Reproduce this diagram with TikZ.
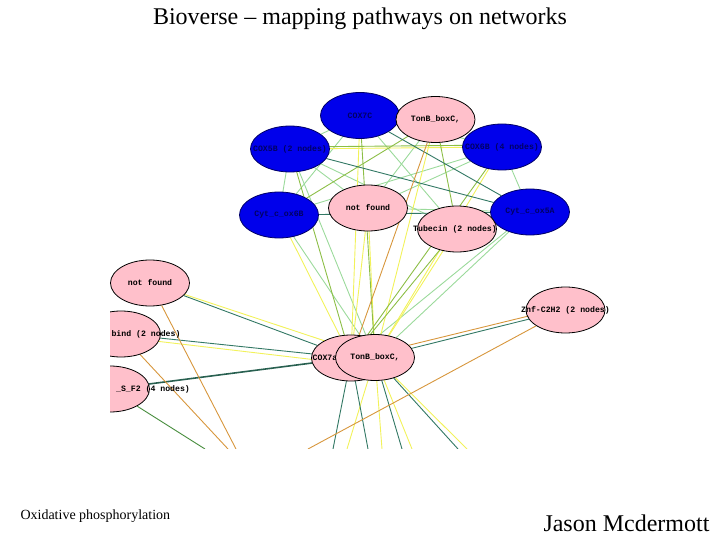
\documentclass[tikz,border=0pt]{standalone}
\usepackage{fontspec}
\setmainfont{Liberation Serif}
\newfontfamily\netfont{Liberation Mono}
\usetikzlibrary{shapes.geometric,backgrounds}
\definecolor{nodepink}{RGB}{255,192,203}
\definecolor{nodeblue}{RGB}{0,0,235}
\definecolor{bluetext}{RGB}{0,0,100}
\definecolor{edgelgreen}{RGB}{155,218,155}
\definecolor{edgeyellow}{RGB}{242,242,90}
\definecolor{edgeolive}{RGB}{140,190,70}
\definecolor{edgeteal}{RGB}{50,120,100}
\definecolor{edgegreen}{RGB}{70,140,60}
\definecolor{edgeorange}{RGB}{215,150,60}

\begin{document}
\begin{tikzpicture}[x=1pt, y=-1pt,
    pinknode/.style={ellipse, draw=black, line width=0.8pt, fill=nodepink,
      minimum width=79pt, minimum height=46pt, inner sep=0pt},
    bluenode/.style={pinknode, fill=nodeblue, draw=black!60!blue},
    every label/.style={font=\netfont\fontsize{8.2}{9}\selectfont\bfseries},
    edge/.style={line width=0.9pt}
  ]
  \useasboundingbox (0,0) rectangle (720,540);

  % titles
  \node[font=\fontsize{24}{28}\selectfont] (title) at (360,19) {Bioverse -- mapping pathways on networks};
  \node[font=\fontsize{14}{16}\selectfont, anchor=west] (pathway) at (17,516) {Oxidative phosphorylation};
  \node[font=\fontsize{24}{28}\selectfont, anchor=east] (author) at (713,523) {Jason Mcdermott};

  % network nodes
  \begin{scope}
    \clip (110,88) rectangle (608,448);
    \node[bluenode, label={[text=bluetext]center:COX7C}] (cox7c) at (360,115.5) {};
    \node[pinknode, label={center:TonB\_boxC,}] (tonbT) at (435.5,119.5) {};
    \node[bluenode, label={[text=bluetext]center:COX5B (2 nodes)}] (cox5b) at (290,149) {};
    \node[bluenode, label={[text=bluetext]center:COX6B (4 nodes)}] (cox6b) at (502,147) {};
    \node[bluenode, label={[text=bluetext]center:Cyt\_c\_ox6B}] (cyt6b) at (279,215) {};
    \node[pinknode, label={center:not found}] (nfM) at (368,208) {};
    \node[bluenode, label={[text=bluetext]center:Cyt\_c\_ox5A}] (cyt5a) at (530,212) {};
    \node[pinknode, label={[xshift=-2pt]center:Tubecin (2 nodes)}] (tub) at (457,229) {};
    \node[pinknode, label={center:not found}] (nfL) at (150,283) {};
    \node[pinknode, label={[xshift=25pt]center:bind (2 nodes)}] (bind) at (121,334) {};
    \node[pinknode, label={[xshift=43pt]center:\_S\_F2 (4 nodes)}] (sf2) at (110,389) {};
    \node[pinknode, label={[xshift=-26pt]center:COX7a}] (cox7a) at (351,358) {};
    \node[pinknode, label={center:TonB\_boxC,}] (tonbB) at (375,357.5) {};
    \node[pinknode, label={center:Znf-C2H2 (2 nodes)}] (znf) at (565.5,310) {};
  \end{scope}

  % links, behind the nodes
  \begin{scope}[on background layer]
    \clip (110,88) rectangle (608,448);
    \foreach \n/\x in {1/205,2/236,3/228,4/308,5/333,6/347,7/368,8/382,9/402,10/412,11/458,12/467}
      \coordinate (b\n) at (\x,449);
    \foreach \a/\b in {cox5b/cox7c,cox5b/nfM,cox5b/tub,cox5b/cyt6b,cox7c/cyt6b,cox7c/tub,
        cox7c/cox6b,cox6b/cyt6b,cox6b/nfM,cox6b/cyt5a,nfM/cyt5a,cyt6b/tonbB,cox5b/tonbB,
        cyt5a/tonbB,cyt5a/cox7a,tonbT/nfM}
      \draw[edge, edgelgreen] (\a) -- (\b);
    \foreach \a/\b in {cox5b/cox6b,cyt6b/cox7a,nfM/cox7a,nfM/tonbB,cox7c/cox7a,cox6b/tonbB,
        tub/tonbB,nfL/tonbB,tonbT/tonbB,tonbB/b6,tonbB/b8,tonbB/b10,tonbB/b12}
      \draw[edge, edgeyellow] (\a) -- (\b);
    \draw[edge, edgeyellow] ([yshift=-3pt]bind.center) -- ([yshift=-6pt]cox7a.center);
    \foreach \a/\b in {tonbT/cyt6b,tonbT/tub,cox7c/tonbB,cox6b/cox7a,tub/cox7a,cox5b/cox7a}
      \draw[edge, edgeolive] (\a) -- (\b);
    \draw[edge, edgeolive] ([yshift=2pt]cox5b.center) -- ([yshift=2pt]cox6b.center);
    \foreach \a/\b in {cox5b/cyt5a,cox7c/cyt5a,cyt6b/cyt5a,nfL/cox7a,bind/cox7a,
        znf/tonbB,cox7a/b5,cox7a/b7,tonbB/b9,tonbB/b11}
      \draw[edge, edgeteal] (\a) -- (\b);
    \draw[line width=1.6pt, edgeteal!80!black] (sf2) -- (cox7a);
    \draw[edge, edgegreen] (sf2) -- (b1);
    \foreach \a/\b in {tonbT/cox7a,nfL/b2,bind/b3,znf/b4}
      \draw[edge, edgeorange] (\a) -- (\b);
    \draw[edge, edgeorange] ([yshift=3pt]znf.center) -- ([yshift=4pt]tonbB.center);
  \end{scope}
\end{tikzpicture}
\end{document}
